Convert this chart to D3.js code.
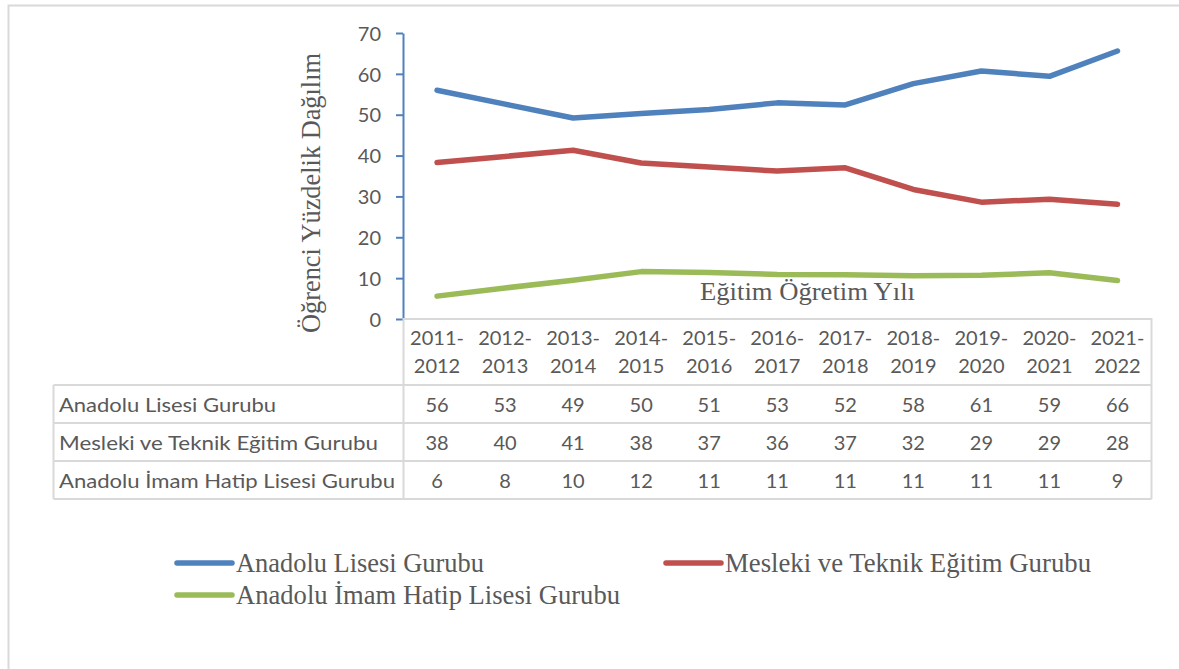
<!DOCTYPE html>
<html>
<head>
<meta charset="utf-8">
<script src="https://cdn.jsdelivr.net/npm/d3@7"></script>
<style>
  html, body { margin: 0; padding: 0; background: #fff; }
  svg { display: block; }
</style>
</head>
<body>
<svg id="chart" width="1179" height="669"></svg>
<script>
// ---- data ----
const categories = ["2011-2012","2012-2013","2013-2014","2014-2015","2015-2016","2016-2017","2017-2018","2018-2019","2019-2020","2020-2021","2021-2022"];
const seriesNames = ["Anadolu Lisesi Gurubu","Mesleki ve Teknik Eğitim Gurubu","Anadolu İmam Hatip Lisesi Gurubu"];
// plotted (unrounded) values
const anadoluLine = [56.0, 52.6, 49.2, 50.3, 51.3, 52.9, 52.4, 57.6, 60.7, 59.4, 65.6];
const meslekiLine = [38.3, 39.8, 41.3, 38.2, 37.2, 36.2, 37.0, 31.7, 28.6, 29.3, 28.1];
const imamLine    = [5.6, 7.6, 9.5, 11.6, 11.4, 10.9, 10.8, 10.6, 10.7, 11.3, 9.4];
// values printed in the data table
const anadoluTable = [56, 53, 49, 50, 51, 53, 52, 58, 61, 59, 66];
const meslekiTable = [38, 40, 41, 38, 37, 36, 37, 32, 29, 29, 28];
const imamTable    = [6, 8, 10, 12, 11, 11, 11, 11, 11, 11, 9];
const yTicks = [0, 10, 20, 30, 40, 50, 60, 70];
const yTitle = "Öğrenci Yüzdelik Dağılım";
const xTitle = "Eğitim Öğretim Yılı";

// ---- styles ----
const colors = ["#4F81BD", "#C0504D", "#9BBB59"];
const textGray = "#595959";
const gridGray = "#D9D9D9";
const sansFont = "Lato, 'Open Sans', sans-serif";
const serifFont = "'Liberation Serif', 'DejaVu Serif', serif";

const svg = d3.select("#chart");

// outer frame
svg.append("path")
  .attr("d", "M8.5,1200 L8.5,5.5 L1200,5.5")
  .attr("fill", "none").attr("stroke", gridGray).attr("stroke-width", 2);

const x = d3.scaleBand().domain(categories).range([403, 1151.5]).paddingInner(0).paddingOuter(0);
const y = d3.scaleLinear().domain([0, 70]).range([319, 33]);
const cx = c => x(c) + x.bandwidth() / 2;

// Y axis
const yAxis = svg.append("g")
  .attr("transform", "translate(403,0)")
  .call(d3.axisLeft(y).tickValues(yTicks).tickSize(7).tickSizeOuter(0).tickPadding(15));
yAxis.select(".domain").attr("stroke", colors[0]).attr("stroke-width", 2);
yAxis.selectAll(".tick line").attr("stroke", colors[0]).attr("stroke-width", 2);
yAxis.selectAll(".tick text")
  .attr("fill", textGray).attr("font-family", sansFont).attr("font-size", 20)
  .attr("dy", "0.36em");

// Y title
svg.append("text")
  .attr("transform", "translate(320,193) rotate(-90)")
  .attr("text-anchor", "middle")
  .attr("font-family", serifFont).attr("font-size", 27)
  .attr("fill", textGray)
  .attr("textLength", 280).attr("lengthAdjust", "spacingAndGlyphs")
  .text(yTitle);

// Lines
const lineGen = d3.line().x((d, i) => cx(categories[i])).y(d => y(d));
const lineSeries = [anadoluLine, meslekiLine, imamLine];
svg.append("g").selectAll("path")
  .data(lineSeries)
  .join("path")
  .attr("d", d => lineGen(d))
  .attr("fill", "none")
  .attr("stroke", (d, i) => colors[i])
  .attr("stroke-width", 5.5)
  .attr("stroke-linejoin", "round")
  .attr("stroke-linecap", "round");

// X title (inside plot)
svg.append("text")
  .attr("x", 700).attr("y", 300)
  .attr("font-family", serifFont).attr("font-size", 25)
  .attr("fill", textGray)
  .attr("textLength", 215).attr("lengthAdjust", "spacingAndGlyphs")
  .text(xTitle);

// ---- data table ----
const tableLeft = 53.5, tableRight = 1151.5, labelColRight = 403.5;
const headerTop = 319, rowTops = [385, 423, 461], tableBottom = 499;
const tbl = svg.append("g").attr("stroke", gridGray).attr("stroke-width", 2).attr("fill", "none");
// header box
tbl.append("path").attr("d", `M${labelColRight},${tableBottom} L${labelColRight},${headerTop} L${tableRight},${headerTop} L${tableRight},${tableBottom}`);
// row lines
rowTops.concat([tableBottom]).forEach(yy => {
  tbl.append("line").attr("x1", tableLeft).attr("x2", tableRight).attr("y1", yy).attr("y2", yy);
});
tbl.append("line").attr("x1", tableLeft).attr("x2", tableLeft).attr("y1", rowTops[0]).attr("y2", tableBottom);

// header labels
const hdr = svg.append("g").attr("font-family", sansFont).attr("font-size", 20).attr("fill", textGray).attr("text-anchor", "middle");
categories.forEach(c => {
  const parts = c.split("-");
  hdr.append("text").attr("x", cx(c)).attr("y", 345).text(parts[0] + "-");
  hdr.append("text").attr("x", cx(c)).attr("y", 373).text(parts[1]);
});

// rows
const tableRows = [anadoluTable, meslekiTable, imamTable];
const rowBaselines = [411.5, 449.5, 488];
const labelWidths = [217, 319, 336];
const rowsG = svg.append("g").attr("font-family", sansFont).attr("font-size", 20).attr("fill", textGray);
tableRows.forEach((vals, r) => {
  rowsG.append("text").attr("x", 59).attr("y", rowBaselines[r])
    .attr("textLength", labelWidths[r]).attr("lengthAdjust", "spacingAndGlyphs")
    .text(seriesNames[r]);
  rowsG.selectAll(null).data(vals).join("text")
    .attr("x", (d, i) => cx(categories[i]))
    .attr("y", rowBaselines[r])
    .attr("text-anchor", "middle")
    .text(d => d);
});

// ---- legend ----
const legendItems = [
  { x: 177, y: 563, tx: 236, ty: 572, w: 248 },
  { x: 666, y: 563, tx: 725, ty: 572, w: 366 },
  { x: 177, y: 595, tx: 236, ty: 604, w: 384 }
];
const lg = svg.append("g");
legendItems.forEach((it, i) => {
  lg.append("line").attr("x1", it.x).attr("x2", it.x + 55).attr("y1", it.y).attr("y2", it.y)
    .attr("stroke", colors[i]).attr("stroke-width", 5.5).attr("stroke-linecap", "round");
  lg.append("text").attr("x", it.tx).attr("y", it.ty)
    .attr("font-family", serifFont).attr("font-size", 27).attr("fill", textGray)
    .attr("textLength", it.w).attr("lengthAdjust", "spacingAndGlyphs")
    .text(seriesNames[i]);
});
</script>
</body>
</html>
